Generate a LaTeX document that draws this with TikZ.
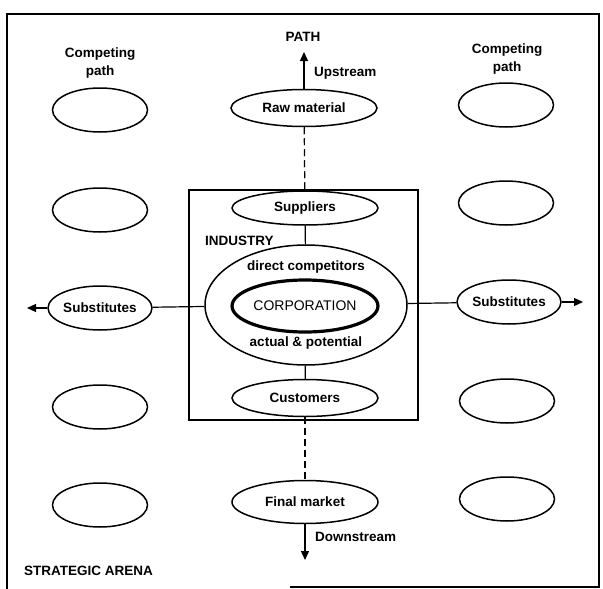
\documentclass[tikz,border=0pt]{standalone}
\usepackage{fontspec}
\setmainfont{Liberation Sans}
\usetikzlibrary{shapes.geometric,arrows.meta,positioning}

\begin{document}
\begin{tikzpicture}[x=1pt, y=-1pt,
	oval/.style={ellipse, draw, line width=1.5pt, inner sep=0pt, minimum width=146pt, minimum height=37pt, font=\bfseries\fontsize{13.5}{16}\selectfont},
	side/.style={ellipse, draw, line width=1.5pt, inner sep=0pt, minimum width=95pt, minimum height=44pt},
	lbl/.style={font=\bfseries\fontsize{13.5}{18}\selectfont, align=center, inner sep=0pt},
	flow/.style={line width=1.3pt, -{Triangle[length=9pt,width=8pt]}},
	link/.style={line width=1.2pt},
	dashlink/.style={line width=1.2pt, dash pattern=on 7pt off 4pt}]
	\useasboundingbox (0,0) rectangle (603,589);

	% strategic arena frame
	\draw[line width=1.4pt] (290,587) -- (599,587) -- (599,14) -- (7,14) -- (7,589);
	\node[lbl, anchor=west] (arena) at (24,571) {STRATEGIC ARENA};

	% industry box
	\draw[line width=1.3pt] (189,190) rectangle (418,420);
	\node[lbl, anchor=west] (industry) at (205,241) {INDUSTRY};

	% main path
	\node[oval] (raw) at (304,108) {Raw material};
	\node[oval, minimum height=34pt] (sup) at (305,208) {Suppliers};
	\node[ellipse, draw, line width=1.5pt, minimum width=202pt, minimum height=120pt] (ind) at (306,305) {};
	\node[ellipse, draw, line width=3.2pt, inner sep=0pt, minimum width=144pt, minimum height=52pt, font=\fontsize{14}{16}\selectfont] (corp) at (305,306) {CORPORATION};
	\node[lbl] (direct) at (306,267) {direct competitors};
	\node[lbl] (actual) at (306,343) {actual \& potential};
	\node[oval] (cust) at (305,398) {Customers};
	\node[oval, minimum height=43pt] (fin) at (305,502) {Final market};

	% upstream / downstream
	\node[lbl] (path) at (303,37) {PATH};
	\coordinate (up) at (304,52);
	\coordinate (down) at (305,560);
	\draw[flow] (raw) -- (up);
	\node[lbl, anchor=west] (upl) at (314,73) {Upstream};
	\draw[flow] (fin) -- (down);
	\node[lbl, anchor=west] (downl) at (315,537) {Downstream};

	\draw[dashlink] (raw) -- (sup);
	\draw[link] (sup) -- (ind);
	\draw[link] (ind) -- (cust);
	\draw[dashlink] (cust) -- (fin);

	% competing paths
	\node[lbl] (compl) at (100,63) {Competing\\path};
	\node[lbl] (compr) at (507,59) {Competing\\path};
	\foreach \n/\x/\y in {l1/100/110, l2/100/210, l4/100/407, l5/100/505, r1/506/105, r2/506/203, r4/507/401, r5/507/499}{
		\node[side] (\n) at (\x,\y) {};
	}

	% substitutes
	\node[side, font=\bfseries\fontsize{13.5}{16}\selectfont] (subl) at (100,308) {Substitutes};
	\node[side, font=\bfseries\fontsize{13.5}{16}\selectfont] (subr) at (509,302) {Substitutes};
	\coordinate (tipl) at (27,308);
	\coordinate (tipr) at (583,302);
	\draw[flow] (subl) -- (tipl);
	\draw[flow] (subr) -- (tipr);
	\draw[link] (subl) -- (ind);
	\draw[link] (ind) -- (subr);
\end{tikzpicture}
\end{document}
